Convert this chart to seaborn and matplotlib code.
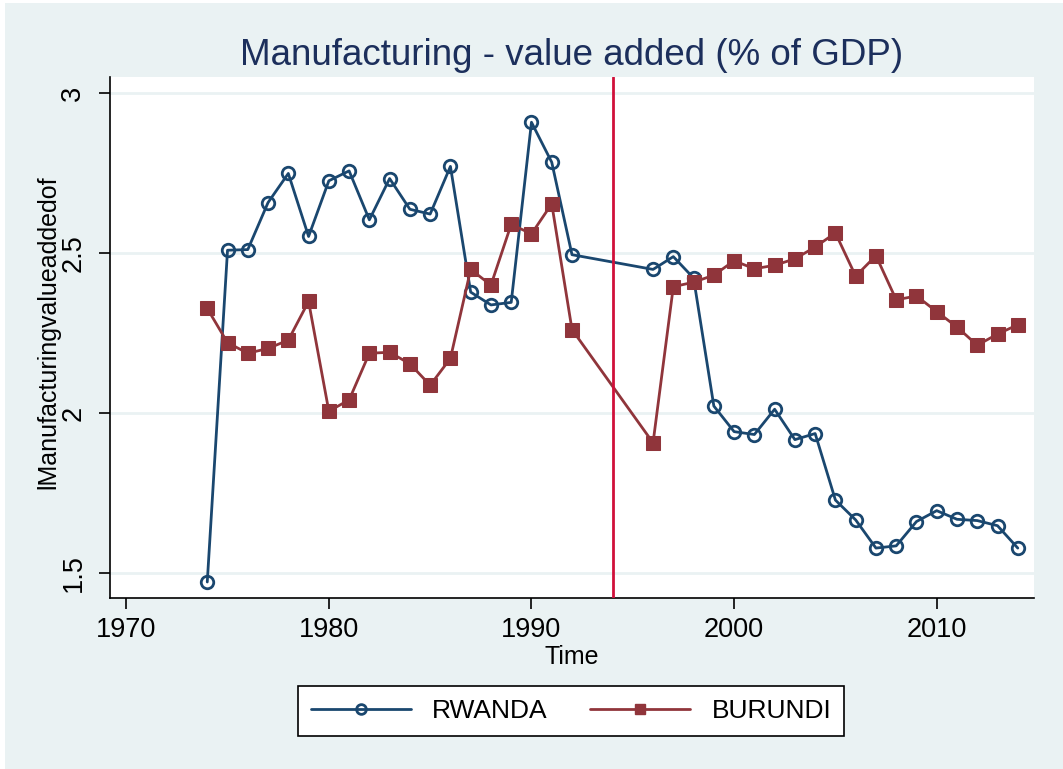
import matplotlib
matplotlib.use("Agg")
import matplotlib.pyplot as plt
from matplotlib.lines import Line2D
from matplotlib.patches import Rectangle
import seaborn as sns
import pandas as pd

# data (1993-1995 missing for both countries)
years = [1974, 1975, 1976, 1977, 1978, 1979, 1980, 1981, 1982, 1983, 1984,
         1985, 1986, 1987, 1988, 1989, 1990, 1991, 1992, 1996, 1997, 1998,
         1999, 2000, 2001, 2002, 2003, 2004, 2005, 2006, 2007, 2008, 2009,
         2010, 2011, 2012, 2013, 2014]
rwanda = [1.472, 2.509, 2.511, 2.658, 2.749, 2.552, 2.726, 2.757, 2.604, 2.733,
          2.637, 2.622, 2.771, 2.378, 2.338, 2.346, 2.909, 2.784, 2.495, 2.449,
          2.489, 2.422, 2.022, 1.942, 1.933, 2.012, 1.917, 1.936, 1.728, 1.666,
          1.578, 1.585, 1.661, 1.695, 1.668, 1.664, 1.648, 1.578]
burundi = [2.327, 2.220, 2.187, 2.202, 2.228, 2.349, 2.006, 2.041, 2.187, 2.190,
           2.154, 2.087, 2.171, 2.449, 2.400, 2.590, 2.560, 2.654, 2.261, 1.907,
           2.395, 2.409, 2.431, 2.476, 2.451, 2.462, 2.482, 2.519, 2.563, 2.428,
           2.492, 2.354, 2.366, 2.317, 2.269, 2.212, 2.247, 2.276]
xticks = [1970, 1980, 1990, 2000, 2010]
yticks = [1.5, 2, 2.5, 3]
break_year = 1994

navy = "#1A476F"
maroon = "#90353B"
bg = "#EAF2F3"

sns.set_theme(style="white")
plt.rcParams["font.family"] = ["Liberation Sans", "DejaVu Sans"]

df = pd.DataFrame({"Time": years, "RWANDA": rwanda, "BURUNDI": burundi})

fig = plt.figure(figsize=(10.63, 7.69), dpi=100, facecolor="white")
fig.patches.append(Rectangle((5 / 1063, 0), 1, 1 - 3 / 769, transform=fig.transFigure,
                             facecolor=bg, edgecolor="none", zorder=-10))
ax = fig.add_axes([110 / 1063, 1 - 598 / 769, 924 / 1063, 521.5 / 769])
ax.set_facecolor("white")

sns.lineplot(data=df, x="Time", y="RWANDA", ax=ax, color=navy, linewidth=2.0,
             marker="o", markersize=9, markerfacecolor="none",
             markeredgecolor=navy, markeredgewidth=2.0, zorder=3)
sns.lineplot(data=df, x="Time", y="BURUNDI", ax=ax, color=maroon, linewidth=2.0,
             marker="s", markersize=9.5, markerfacecolor=maroon,
             markeredgecolor=maroon, zorder=3)
ax.axvline(break_year, color="#D0103A", linewidth=2.0, zorder=4)

ax.set_xlim(1969.2, 2014.8)
ax.set_ylim(1.422, 3.052)
ax.set_xticks(xticks)
ax.set_yticks(yticks)
ax.set_yticklabels([f"{t:g}" for t in yticks], rotation=90, va="center")
ax.grid(axis="y", color=bg, linewidth=2.0, zorder=0)
ax.grid(axis="x", visible=False)

for s in ["top", "right"]:
    ax.spines[s].set_visible(False)
for s in ["left", "bottom"]:
    ax.spines[s].set_color("black")
    ax.spines[s].set_linewidth(1.2)
ax.tick_params(axis="both", direction="out", length=8, width=1.2, color="black",
               labelsize=19.5, labelcolor="black", left=True, bottom=True)
ax.tick_params(axis="x", pad=6)
ax.tick_params(axis="y", pad=9)

ax.set_xlabel("Time", fontsize=18, color="black", labelpad=1)
ax.set_ylabel("lManufacturingvalueaddedof", fontsize=18, color="black")
ax.yaxis.set_label_coords(-0.054, 0.51)
ax.set_title("Manufacturing - value added (% of GDP)", fontsize=26.5, color="#1C2F5C", pad=8)

handles = [
    Line2D([], [], color=navy, linewidth=2.0, marker="o", markersize=7,
           markerfacecolor="none", markeredgecolor=navy, markeredgewidth=2.0),
    Line2D([], [], color=maroon, linewidth=2.0, marker="s", markersize=7.5,
           markerfacecolor=maroon, markeredgecolor=maroon),
]
leg = fig.legend(handles, ["RWANDA", "BURUNDI"], loc="center",
                 bbox_to_anchor=(571 / 1063, 1 - 711 / 769), ncol=2, fontsize=19,
                 frameon=True, fancybox=False, edgecolor="black", facecolor="white",
                 framealpha=1, handlelength=3.8, columnspacing=1.6, borderpad=0.5,
                 handletextpad=0.8, labelcolor="black")
leg.get_frame().set_linewidth(1.2)

fig.savefig("out.png", dpi=100, facecolor=fig.get_facecolor())
